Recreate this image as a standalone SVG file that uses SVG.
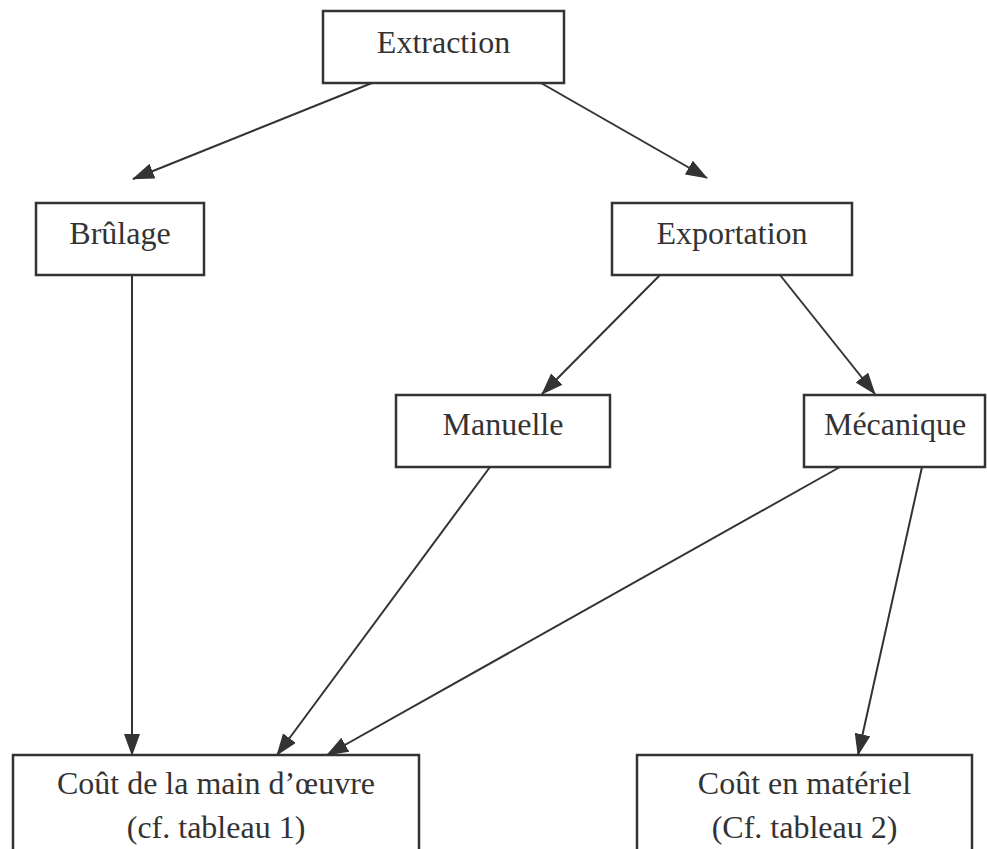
<svg xmlns="http://www.w3.org/2000/svg" width="987" height="849" viewBox="0 0 987 849">
<defs>
<style>
.box{fill:#fff;stroke:#333;stroke-width:2.5}
.t{font-family:"Liberation Serif","Times New Roman",serif;font-size:32px;fill:#333;text-anchor:middle}
.c{stroke:#333;stroke-width:2;fill:none;marker-end:url(#ah)}
</style>
<marker id="ah" viewBox="0 0 22 16" refX="21" refY="8" markerWidth="22" markerHeight="16" markerUnits="userSpaceOnUse" orient="auto">
<path d="M0,0 L22,8 L0,16 Z" fill="#333"/>
</marker>
</defs>
<rect width="987" height="849" fill="#fff"/>
<g id="connectors">
<line class="c" x1="372" y1="83" x2="133" y2="179"/>
<line class="c" x1="541" y1="83" x2="707" y2="178"/>
<line class="c" x1="132" y1="275" x2="132" y2="755"/>
<line class="c" x1="660" y1="275" x2="542" y2="394"/>
<line class="c" x1="780" y1="275" x2="875" y2="394"/>
<line class="c" x1="490" y1="467" x2="277" y2="755"/>
<line class="c" x1="840" y1="467" x2="327" y2="755"/>
<line class="c" x1="922" y1="467" x2="858" y2="755"/>
</g>
<g id="extraction"><rect class="box" x="323" y="11" width="241" height="72"/><text class="t" x="443.5" y="53">Extraction</text></g>
<g id="brulage"><rect class="box" x="36" y="203" width="168" height="72"/><text class="t" x="120" y="244">Brûlage</text></g>
<g id="exportation"><rect class="box" x="612" y="203" width="240" height="72"/><text class="t" x="732" y="244">Exportation</text></g>
<g id="manuelle"><rect class="box" x="396" y="395" width="214" height="72"/><text class="t" x="503" y="435">Manuelle</text></g>
<g id="mecanique"><rect class="box" x="804" y="395" width="181" height="72"/><text class="t" x="895" y="435">Mécanique</text></g>
<g id="main-oeuvre"><rect class="box" x="13" y="755" width="406" height="110"/><text class="t" x="216" y="794">Coût de la main d’œuvre</text><text class="t" x="216" y="838">(cf. tableau 1)</text></g>
<g id="materiel"><rect class="box" x="637" y="755" width="335" height="110"/><text class="t" x="804.5" y="794">Coût en matériel</text><text class="t" x="804.5" y="838">(Cf. tableau 2)</text></g>
</svg>
